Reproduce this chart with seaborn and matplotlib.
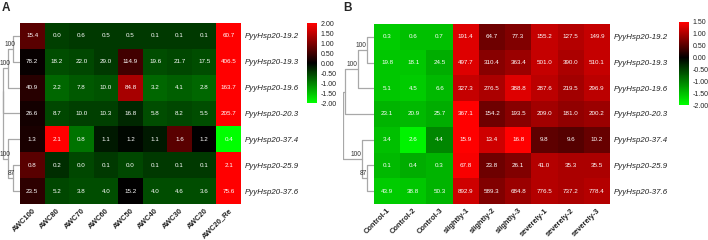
import numpy as np
import pandas as pd
import matplotlib
matplotlib.use('Agg')
import matplotlib.pyplot as plt
import seaborn as sns
from matplotlib.colors import LinearSegmentedColormap

genes = ['PyyHsp20-19.2', 'PyyHsp20-19.3', 'PyyHsp20-19.6', 'PyyHsp20-20.3',
         'PyyHsp20-37.4', 'PyyHsp20-25.9', 'PyyHsp20-37.6']

cols_a = ['AWC100', 'AWC80', 'AWC70', 'AWC60', 'AWC50', 'AWC40', 'AWC30', 'AWC20', 'AWC20_Re']
cols_b = ['Control-1', 'Control-2', 'Control-3', 'slightly-1', 'slightly-2', 'slightly-3',
          'severely-1', 'severely-2', 'severely-3']

# numbers printed in the cells
vals_a = [[15.4, 0.0, 0.6, 0.5, 0.5, 0.1, 0.1, 0.1, 60.7],
          [78.2, 18.2, 22.0, 29.0, 114.9, 19.6, 21.7, 17.5, 406.5],
          [40.9, 2.2, 7.8, 10.0, 84.8, 3.2, 4.1, 2.8, 163.7],
          [26.6, 8.7, 10.0, 10.3, 16.8, 5.8, 8.2, 5.5, 205.7],
          [1.3, 2.1, 0.8, 1.1, 1.2, 1.1, 1.6, 1.2, 0.4],
          [0.8, 0.2, 0.0, 0.1, 0.0, 0.1, 0.1, 0.1, 2.1],
          [23.5, 5.2, 3.8, 4.0, 15.2, 4.0, 4.6, 3.6, 75.6]]

vals_b = [[0.3, 0.6, 0.7, 191.4, 64.7, 77.3, 155.2, 127.5, 149.9],
          [19.8, 18.1, 24.5, 497.7, 310.4, 363.4, 501.0, 390.0, 510.1],
          [5.1, 4.5, 6.6, 327.3, 276.5, 388.8, 287.6, 219.5, 296.9],
          [23.1, 20.9, 25.7, 367.1, 154.2, 193.5, 209.0, 181.0, 200.2],
          [3.4, 2.6, 4.4, 15.9, 13.4, 16.8, 9.8, 9.6, 10.2],
          [0.1, 0.4, 0.3, 67.8, 23.8, 26.1, 41.0, 35.3, 35.5],
          [43.9, 38.8, 50.3, 892.9, 589.3, 684.8, 776.5, 737.2, 778.4]]

# scaled values behind the colours
z_a = [[0.7, -0.5, -0.45, -0.45, -0.45, -0.45, -0.45, -0.45, 2.0],
       [0.05, -0.6, -0.55, -0.45, 0.5, -0.6, -0.55, -0.6, 2.5],
       [0.3, -0.8, -0.7, -0.65, 1.3, -0.8, -0.75, -0.8, 2.0],
       [0.15, -0.55, -0.5, -0.5, -0.3, -0.6, -0.55, -0.6, 2.2],
       [0.2, 2.0, -0.9, -0.2, -0.05, -0.2, 0.7, 0.0, -2.0],
       [0.7, -0.35, -0.55, -0.45, -0.55, -0.45, -0.45, -0.45, 2.3],
       [0.35, -0.55, -0.6, -0.6, 0.0, -0.6, -0.6, -0.6, 2.3]]

z_b = [[-1.6, -1.5, -1.5, 1.3, 0.65, 0.75, 1.15, 1.05, 1.15],
       [-1.55, -1.55, -1.35, 1.3, 0.8, 0.9, 1.15, 1.0, 1.15],
       [-1.55, -1.6, -1.45, 1.15, 1.0, 1.3, 1.1, 0.95, 1.1],
       [-1.4, -1.45, -1.35, 1.5, 0.65, 0.8, 0.95, 0.85, 0.9],
       [-1.5, -1.9, -1.05, 1.5, 1.2, 1.5, 0.55, 0.5, 0.6],
       [-1.45, -1.35, -1.4, 1.45, 0.65, 0.75, 1.05, 1.0, 1.0],
       [-1.6, -1.55, -1.4, 1.2, 0.75, 0.9, 1.05, 1.0, 1.05]]

# row tree: (child, child, branch height in px, bootstrap)
tree_a = [(0, 1, 7, '100'), (7, 2, 12, '100'), (8, 3, 17, ''),
          (5, 6, 7, '87'), (4, 10, 12, '100'), (9, 11, 17.5, '')]
tree_b = [(0, 1, 7, '100'), (7, 2, 16, '100'), (8, 3, 29, ''),
          (5, 6, 7, '87'), (4, 10, 12, '100'), (9, 11, 31, '')]

ticks_a = [2.0, 1.5, 1.0, 0.5, 0.0, -0.5, -1.0, -1.5, -2.0]
ticks_b = [1.5, 1.0, 0.5, 0.0, -0.5, -1.0, -1.5, -2.0]

sns.set_style('white')
plt.rcParams['font.family'] = ['Liberation Sans', 'DejaVu Sans']

W, H = 708, 240
fig = plt.figure(figsize=(W / 100, H / 100), dpi=100)


def box(x0, y0, x1, y1):
    return [x0 / W, 1 - y1 / H, (x1 - x0) / W, (y1 - y0) / H]


def draw_tree(ax, tree, n, xmax, lab_dx):
    pos = {i: (0.0, i + 0.5) for i in range(n)}
    for k, (a, b, h, lab) in enumerate(tree):
        ha_, ya = pos[a]
        hb, yb = pos[b]
        ax.plot([ha_, h, h, hb], [ya, ya, yb, yb], color='#a8a8a8', lw=0.9)
        ym = (ya + yb) / 2
        pos[n + k] = (h, ym)
        if lab:
            ax.text(h - lab_dx, ym - 0.04, lab, ha='right', va='bottom', fontsize=4.8,
                    color='#333333', clip_on=False)
    ax.set_xlim(xmax, 0)
    ax.set_ylim(n, 0)
    ax.axis('off')


def panel(vals, z, cols, tree, hm_box, cb_box, tree_box, vmin, vmax, ticks,
          letter_xy, letter, lab_dx):
    cmap = LinearSegmentedColormap.from_list(
        'gbr', [(0, '#00ff00'), ((0 - vmin) / (vmax - vmin), '#000000'), (1, '#ff0000')])
    ax = fig.add_axes(box(*hm_box))
    cax = fig.add_axes(box(*cb_box))
    df = pd.DataFrame(z, index=genes, columns=cols)
    sns.heatmap(df, ax=ax, cbar_ax=cax, cmap=cmap, vmin=vmin, vmax=vmax,
                annot=np.array(vals), fmt='.1f',
                annot_kws={'color': 'white', 'fontsize': 4.5}, linewidths=0)
    ax.yaxis.tick_right()
    ax.set_yticklabels(genes, rotation=0, fontsize=5.7, style='italic', color='#222222')
    ax.set_xticklabels(cols, rotation=45, ha='right', rotation_mode='anchor',
                       fontsize=5.4, fontweight='bold', color='#222222')
    ax.tick_params(axis='y', length=0, pad=2.5)
    ax.tick_params(axis='x', length=0, pad=2)
    cb = ax.collections[0].colorbar
    cb.outline.set_visible(False)
    cb.set_ticks(ticks)
    cb.set_ticklabels(['%.2f' % t for t in ticks])
    cax.tick_params(length=0, labelsize=5, pad=2.5, colors='#222222')
    tax = fig.add_axes(box(*tree_box))
    draw_tree(tax, tree, len(genes), tree_box[2] - tree_box[0], lab_dx)
    fig.text(letter_xy[0] / W, 1 - letter_xy[1] / H, letter, fontsize=8.5,
             fontweight='bold', ha='left', va='top')


panel(vals_a, z_a, cols_a, tree_a, (20, 23, 241, 204), (307, 23, 317, 103),
      (0, 23, 20, 204), -2, 2, ticks_a, (2, 2), 'A', 2.5)
panel(vals_b, z_b, cols_b, tree_b, (374, 24, 610, 204), (679, 22, 689, 105),
      (343, 24, 374, 204), -2, 1.5, ticks_b, (343, 2), 'B', -0.5)

fig.savefig('out.png', dpi=100)
